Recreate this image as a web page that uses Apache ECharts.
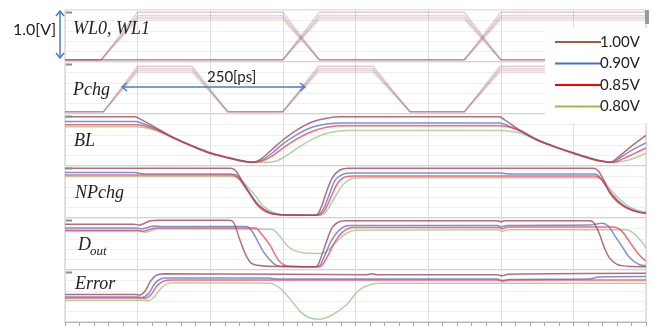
<!DOCTYPE html>
<html><head><meta charset="utf-8">
<script src="https://cdn.jsdelivr.net/npm/echarts@6/dist/echarts.min.js"></script>
<style>html,body{margin:0;padding:0;background:#fff;}#c{width:654px;height:327px;}</style>
</head><body><div id="c"></div>
<script>
// ---- names / colours ----
const supplyNames = ['1.00V', '0.90V', '0.85V', '0.80V'];
const legendColors = ['#a65a3c', '#4472c4', '#ff0000', '#92c050'];
const waveColors = ['#a4485a', '#5b74c8', '#ee4656', '#9cc890'];
const panelLabels = ['WL0, WL1', 'Pchg', 'BL', 'NPchg', 'D', 'Error'];
const timeMin = 0, timeMax = 800, timeStep = 100; // [ps]

// ---- WL0 / WL1 ----
const wl0_100 = [[0,0],[50,0],[100,1.0],[300,1.0],[350,0],[550,0],[600,1.0],[800,1.0]];
const wl0_090 = [[0,0],[50,0],[100,0.93],[300,0.93],[350,0],[550,0],[600,0.93],[800,0.93]];
const wl0_085 = [[0,0],[50,0],[100,0.88],[300,0.88],[350,0],[550,0],[600,0.88],[800,0.88]];
const wl0_080 = [[0,0],[50,0],[100,0.84],[300,0.84],[350,0],[550,0],[600,0.84],[800,0.84]];
const wl1_100 = [[0,0],[300,0],[350,1.0],[550,1.0],[600,0],[800,0]];
const wl1_090 = [[0,0],[300,0],[350,0.93],[550,0.93],[600,0],[800,0]];
const wl1_085 = [[0,0],[300,0],[350,0.88],[550,0.88],[600,0],[800,0]];
const wl1_080 = [[0,0],[300,0],[350,0.84],[550,0.84],[600,0],[800,0]];

// ---- Pchg ----
const pchg_100 = [[0,0],[53,0],[100,0.96],[175,0.96],[224,0],[300,0],[349,0.96],[424,0.96],[475,0],[550,0],[599,0.96],[800,0.96]];
const pchg_090 = [[0,0],[53,0],[100,0.91],[175,0.91],[224,0],[300,0],[349,0.91],[424,0.91],[475,0],[550,0],[599,0.91],[800,0.91]];
const pchg_085 = [[0,0],[53,0],[100,0.87],[175,0.87],[224,0],[300,0],[349,0.87],[424,0.87],[475,0],[550,0],[599,0.87],[800,0.87]];
const pchg_080 = [[0,0],[53,0],[100,0.83],[175,0.83],[224,0],[300,0],[349,0.83],[424,0.83],[475,0],[550,0],[599,0.83],[800,0.83]];

// ---- BL ----
const bl_100 = [[0,0.99],[96,0.99],[105,0.93],[125,0.76],[150,0.55],[175,0.38],[200,0.23],[225,0.13],[245,0.06],[258,0.03],[270,0.1],[285,0.3],[300,0.5],[320,0.72],[340,0.88],[360,0.96],[380,0.99],[598,0.99],[605,0.93],[625,0.72],[650,0.5],[675,0.36],[700,0.23],[725,0.11],[740,0.05],[750,0.03],[765,0.18],[780,0.37],[800,0.6]];
const bl_090 = [[0,0.89],[96,0.89],[105,0.86],[125,0.74],[150,0.54],[175,0.37],[200,0.22],[225,0.12],[245,0.05],[258,0.03],[270,0.07],[285,0.22],[300,0.42],[320,0.62],[340,0.77],[360,0.84],[380,0.86],[598,0.86],[610,0.8],[625,0.7],[650,0.5],[675,0.35],[700,0.22],[725,0.1],[740,0.05],[752,0.03],[765,0.13],[780,0.28],[800,0.44]];
const bl_085 = [[0,0.82],[96,0.82],[108,0.8],[125,0.72],[150,0.54],[175,0.37],[200,0.22],[225,0.12],[245,0.05],[260,0.03],[272,0.06],[285,0.16],[300,0.33],[320,0.53],[340,0.68],[360,0.77],[385,0.8],[598,0.8],[615,0.76],[630,0.68],[650,0.51],[675,0.35],[700,0.22],[725,0.1],[740,0.05],[755,0.03],[768,0.1],[782,0.2],[800,0.33]];
const bl_080 = [[0,0.78],[96,0.78],[110,0.76],[125,0.7],[150,0.53],[175,0.37],[200,0.22],[225,0.12],[245,0.05],[260,0.03],[282,0.03],[300,0.12],[320,0.33],[345,0.55],[365,0.66],[390,0.7],[598,0.7],[615,0.68],[630,0.63],[650,0.5],[675,0.35],[700,0.22],[725,0.1],[740,0.05],[758,0.03],[772,0.06],[786,0.13],[800,0.22]];

// ---- NPchg ----
const np_100 = [[0,1.0],[228,1.0],[235,0.95],[245,0.7],[255,0.45],[265,0.22],[278,0.07],[295,0.02],[345,0.01],[352,0.15],[360,0.5],[368,0.8],[378,0.96],[390,1.0],[728,1.0],[734,0.95],[742,0.75],[750,0.48],[760,0.3],[772,0.17],[785,0.09],[800,0.05]];
const np_090 = [[0,0.91],[95,0.91],[110,0.88],[228,0.88],[237,0.85],[247,0.65],[257,0.42],[267,0.22],[280,0.07],[297,0.02],[346,0.01],[355,0.12],[364,0.45],[372,0.75],[382,0.87],[395,0.9],[600,0.9],[610,0.88],[730,0.88],[737,0.8],[745,0.62],[753,0.45],[763,0.28],[775,0.16],[788,0.08],[800,0.05]];
const np_085 = [[0,0.86],[230,0.86],[238,0.8],[248,0.6],[258,0.38],[268,0.2],[282,0.07],[298,0.02],[348,0.01],[357,0.1],[367,0.42],[376,0.7],[386,0.82],[400,0.84],[730,0.84],[738,0.78],[747,0.58],[756,0.4],[766,0.25],[778,0.14],[790,0.08],[800,0.05]];
const np_080 = [[0,0.83],[232,0.83],[242,0.75],[252,0.6],[262,0.42],[272,0.22],[285,0.08],[300,0.02],[350,0.01],[360,0.1],[372,0.4],[383,0.66],[395,0.78],[410,0.8],[732,0.8],[742,0.72],[752,0.54],[762,0.37],[772,0.24],[785,0.13],[800,0.07]];

// ---- Dout ----
const dout_100 = [[0,0.92],[95,0.92],[102,0.9],[108,0.93],[118,0.99],[130,1.0],[226,1.0],[232,0.96],[240,0.62],[248,0.3],[256,0.1],[265,0.05],[280,0.03],[345,0.02],[352,0.2],[360,0.55],[368,0.85],[376,0.96],[385,0.99],[595,0.99],[600,0.97],[606,0.99],[722,0.99],[728,0.95],[735,0.75],[742,0.45],[750,0.2],[760,0.07],[775,0.03],[800,0.02]];
const dout_090 = [[0,0.84],[98,0.84],[105,0.82],[112,0.84],[122,0.88],[135,0.87],[250,0.87],[256,0.8],[264,0.6],[273,0.34],[287,0.09],[296,0.03],[348,0.02],[356,0.2],[366,0.55],[378,0.8],[392,0.89],[595,0.89],[601,0.86],[608,0.89],[722,0.9],[740,0.94],[748,0.88],[758,0.65],[767,0.45],[777,0.22],[790,0.07],[800,0.04]];
const dout_085 = [[0,0.79],[100,0.79],[107,0.77],[115,0.8],[125,0.84],[140,0.84],[262,0.84],[270,0.72],[282,0.48],[296,0.12],[310,0.03],[350,0.02],[360,0.2],[370,0.5],[382,0.75],[396,0.85],[596,0.85],[602,0.82],[610,0.86],[755,0.86],[765,0.8],[775,0.6],[785,0.38],[795,0.2],[800,0.15]];
const dout_080 = [[0,0.77],[102,0.77],[110,0.75],[118,0.78],[128,0.82],[145,0.82],[284,0.81],[295,0.68],[305,0.48],[316,0.36],[330,0.31],[352,0.3],[360,0.34],[372,0.52],[386,0.71],[400,0.79],[596,0.8],[602,0.77],[612,0.8],[772,0.8],[780,0.76],[790,0.62],[800,0.42]];

// ---- Error ----
const err_100 = [[0,0.53],[97,0.53],[103,0.52],[110,0.6],[118,0.82],[125,0.93],[135,0.97],[300,0.96],[415,0.95],[422,0.97],[430,0.95],[595,0.95],[602,0.93],[610,0.96],[800,0.98]];
const err_090 = [[0,0.48],[100,0.48],[106,0.47],[115,0.55],[123,0.75],[130,0.85],[140,0.88],[280,0.88],[290,0.86],[420,0.86],[595,0.86],[602,0.83],[612,0.85],[722,0.86],[735,0.9],[800,0.91]];
const err_085 = [[0,0.46],[104,0.46],[110,0.45],[118,0.52],[127,0.72],[135,0.81],[145,0.84],[595,0.84],[603,0.81],[612,0.84],[800,0.84]];
const err_080 = [[0,0.41],[108,0.41],[115,0.4],[123,0.48],[132,0.66],[140,0.75],[150,0.78],[282,0.77],[295,0.68],[305,0.52],[315,0.34],[324,0.17],[335,0.05],[347,0.01],[358,0.03],[368,0.1],[378,0.2],[388,0.32],[396,0.47],[402,0.58],[410,0.68],[420,0.74],[435,0.77],[800,0.77]];

// ---- assemble ----
const panels = [
  {sets: [[wl0_100, wl1_100], [wl0_090, wl1_090], [wl0_085, wl1_085], [wl0_080, wl1_080]], opacity: 0.28, smooth: false},
  {sets: [[pchg_100], [pchg_090], [pchg_085], [pchg_080]], opacity: 0.28, smooth: false},
  {sets: [[bl_100], [bl_090], [bl_085], [bl_080]], opacity: 0.8, smooth: 0.35},
  {sets: [[np_100], [np_090], [np_085], [np_080]], opacity: 0.8, smooth: 0.35},
  {sets: [[dout_100], [dout_090], [dout_085], [dout_080]], opacity: 0.8, smooth: 0.35},
  {sets: [[err_100], [err_090], [err_085], [err_080]], opacity: 0.8, smooth: 0.35}
];

const PT = 10, PH = 52, PL = 65, PR = 8;
const grids = [], xAxes = [], yAxes = [], series = [];
panels.forEach((p, i) => {
  const last = i === panels.length - 1;
  grids.push({left: PL, right: PR, top: PT + PH * i, height: PH, show: true,
    borderColor: '#c4c4c4', borderWidth: 1, backgroundColor: 'transparent'});
  xAxes.push({type: 'value', gridIndex: i, min: timeMin, max: timeMax, interval: timeStep,
    axisLabel: {show: false},
    axisLine: {show: last, onZero: false, lineStyle: {color: '#b8b8b8'}},
    axisTick: {show: last, length: 4, lineStyle: {color: '#a8a8a8'}},
    minorTick: {show: last, splitNumber: 5, length: 4, lineStyle: {color: '#a8a8a8'}},
    splitLine: {show: true, lineStyle: {color: '#dedede', width: 1}}});
  yAxes.push({type: 'value', gridIndex: i, min: -0.05, max: 1.05, interval: 0.22,
    axisLabel: {show: false}, axisLine: {show: false}, axisTick: {show: false},
    splitLine: {show: true, lineStyle: {color: '#f0f0f0', width: 1}}});
  [3, 1, 2, 0].forEach(k => {
    p.sets[k].forEach(d => {
      series.push({type: 'line', name: supplyNames[k], xAxisIndex: i, yAxisIndex: i, data: d,
        showSymbol: false, smooth: p.smooth, silent: true,
        lineStyle: {color: waveColors[k], width: 1.5, opacity: p.opacity}});
    });
  });
});

const blue = '#4a7cc9';
const lblFont = 'italic 18px "Liberation Serif", serif';
const T = (text, x, y, font) => ({type: 'text', z: 20, style: {text, x, y, font, fill: '#222', verticalAlign: 'middle'}});
const graphic = [
  // vertical 1.0[V] arrow
  {type: 'polyline', z: 20, shape: {points: [[60, 11], [60, 58]]}, style: {stroke: blue, lineWidth: 1.5, fill: null}},
  {type: 'polyline', z: 20, shape: {points: [[56, 16], [60, 11], [64, 16]]}, style: {stroke: blue, lineWidth: 1.5, fill: null}},
  {type: 'polyline', z: 20, shape: {points: [[56, 53], [60, 58], [64, 53]]}, style: {stroke: blue, lineWidth: 1.5, fill: null}},
  T('1.0[V]', 13, 30, '16px Lato, sans-serif'),
  // 250 ps arrow
  {type: 'polyline', z: 20, shape: {points: [[122, 87], [305, 87]]}, style: {stroke: blue, lineWidth: 1.5, fill: null}},
  {type: 'polyline', z: 20, shape: {points: [[127, 83], [122, 87], [127, 91]]}, style: {stroke: blue, lineWidth: 1.5, fill: null}},
  {type: 'polyline', z: 20, shape: {points: [[300, 83], [305, 87], [300, 91]]}, style: {stroke: blue, lineWidth: 1.5, fill: null}},
  T('250[ps]', 207, 77, '15px Lato, sans-serif'),
  // panel labels
  T(panelLabels[0], 73, 29, lblFont),
  T(panelLabels[1], 73, 90, lblFont),
  T(panelLabels[2], 74, 141, lblFont),
  T(panelLabels[3], 75, 193, lblFont),
  T(panelLabels[4], 78, 245, lblFont),
  T('out', 90, 252, 'italic 13px "Liberation Serif", serif'),
  T(panelLabels[5], 75, 284, lblFont),
  // scroll mark top right
  {type: 'rect', z: 20, shape: {x: 645, y: 10, width: 4, height: 14}, style: {fill: '#9a9a9a'}},
  // legend box
  {type: 'rect', z: 30, shape: {x: 545, y: 28, width: 109, height: 95}, style: {fill: '#ffffff'}}
];
// tiny level marks in each panel
for (let i = 0; i < 6; i++) {
  graphic.push({type: 'rect', z: 20, shape: {x: 66, y: PT + PH * i + 1.5, width: 6, height: 2}, style: {fill: '#8c8c8c'}});
}
const legendY = [42, 63.5, 85, 106.5];
supplyNames.forEach((n, k) => {
  graphic.push({type: 'line', z: 31, shape: {x1: 555, y1: legendY[k], x2: 601, y2: legendY[k]}, style: {stroke: legendColors[k], lineWidth: 2}});
  graphic.push({type: 'text', z: 31, style: {text: n, x: 600, y: legendY[k], font: '15px Lato, sans-serif', fill: '#222', verticalAlign: 'middle'}});
});

const chart = echarts.init(document.getElementById('c'), null, {renderer: 'canvas'});
chart.setOption({animation: false, backgroundColor: '#fff', grid: grids, xAxis: xAxes, yAxis: yAxes, series: series, graphic: graphic});
</script></body></html>
